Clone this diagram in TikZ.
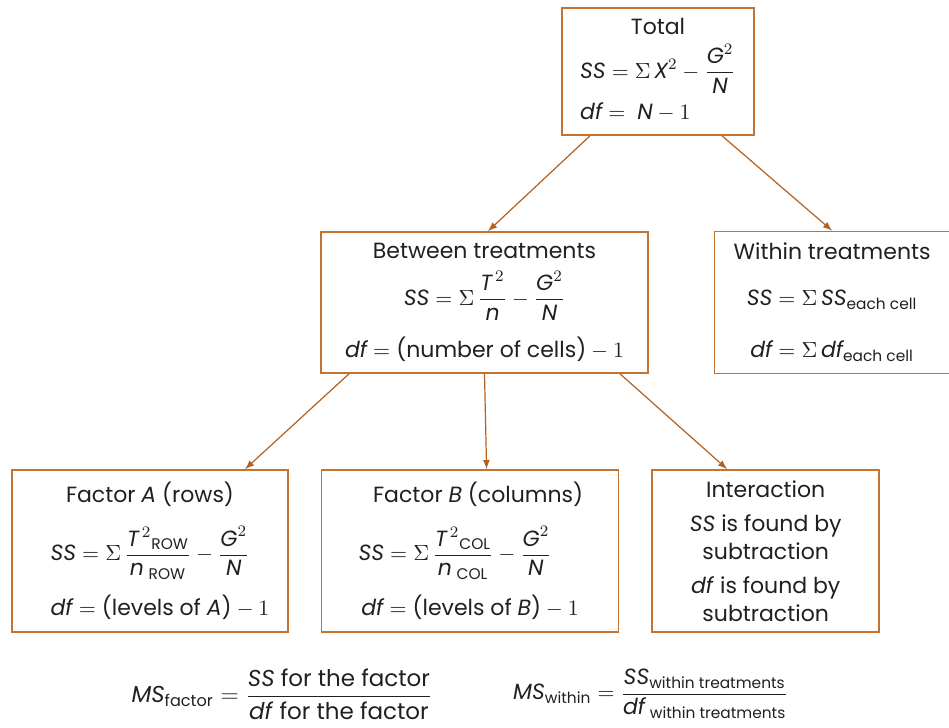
\documentclass[tikz,border=0pt]{standalone}
\usepackage{amsmath}
\usepackage{fontspec}
\setmainfont{Poppins}
\usetikzlibrary{positioning}
\definecolor{boxline}{RGB}{196,116,50}
\definecolor{arrline}{RGB}{180,96,30}
\definecolor{ink}{RGB}{35,31,32}
\newcommand{\iv}[1]{\textit{#1}}

\begin{document}
\begin{tikzpicture}[x=0.5pt, y=-0.5pt,
  every node/.style={inner sep=0pt, text=ink, font=\fontsize{11}{13}\selectfont},
  box/.style={draw=boxline, line width=0.8pt, align=center, fill=white},
  arr/.style={-latex, draw=arrline, line width=0.6pt}]
  \useasboundingbox (0,0) rectangle (949,728);

  \node[box, minimum width=96pt, minimum height=63.5pt] (total) at (658,71.5)
    {\begin{tabular}{@{}l@{}}\multicolumn{1}{c}{Total}\\[1pt]
      $\iv{SS} = \Sigma\,\iv{X}^2 - \dfrac{\iv{G}^2}{\iv{N}}$\\[7.5pt]
      $\iv{df} = \ \iv{N} - 1$\end{tabular}};

  \node[box, minimum width=163.5pt, minimum height=70.5pt] (between) at (484.5,302.5)
    {Between treatments\\[5pt]
      $\iv{SS} = \Sigma\,\dfrac{\iv{T}^{\,2}}{\iv{n}} - \dfrac{\iv{G}^2}{\iv{N}}$\\[7.5pt]
      $\iv{df} = \text{(number of cells)} - 1$};
  \node[box, minimum width=117.5pt, minimum height=71pt, right = 32.5pt of between] (within)
    {Within treatments\\[10pt]
      $\iv{SS} = \Sigma\,\iv{SS}_{\text{each cell}}$\\[13pt]
      $\iv{df} = \Sigma\,\iv{df}_{\text{each cell}}$};

  \node[box, minimum width=138pt, minimum height=81pt] (facA) at (150,551)
    {Factor \iv{A} (rows)\\[9pt]
      $\iv{SS} = \Sigma\,\dfrac{\iv{T}^{\,2}{}_{\text{ROW}}}{\iv{n}_{\;\text{ROW}}} - \dfrac{\iv{G}^2}{\iv{N}}$\\[7pt]
      \hspace*{10pt}$\iv{df} = \text{(levels of \iv{A})} - 1$};
  \node[box, minimum width=148.5pt, minimum height=81pt, right = 16pt of facA] (facB)
    {\hspace*{8pt}Factor \iv{B} (columns)\\[9pt]
      \hspace*{-15pt}$\iv{SS} = \Sigma\,\dfrac{\iv{T}^{\,2}{}_{\text{COL}}}{\iv{n}_{\;\text{COL}}} - \dfrac{\iv{G}^2}{\iv{N}}$\\[7pt]
      $\iv{df} = \text{(levels of \iv{B})} - 1$};
  \node[box, minimum width=113.5pt, minimum height=81pt, right = 16pt of facB,
        font=\fontsize{11}{14}\selectfont] (inter)
    {Interaction\\[3pt]
      \iv{SS} is found by\\ subtraction\\[3pt]
      \iv{df} is found by\\ subtraction};

  \node[font=\fontsize{11.5}{13}\selectfont] (msfac) at (282,694)
    {$\iv{MS}_{\text{factor}} = \dfrac{\text{\iv{SS} for the factor}}{\text{\iv{df} for the factor}}$};
  \node (mswithin) at (651,694)
    {$\iv{MS}_{\text{within}} = \dfrac{\iv{SS}_{\text{within treatments}}}{\iv{df}_{\;\text{within treatments}}}$};

  \draw[arr] ([xshift=-34pt]total.south) -- ([xshift=1.75pt]between.north);
  \draw[arr] ([xshift=32pt]total.south) -- (within.north);
  \draw[arr] ([xshift=-67.75pt]between.south) -- ([xshift=47.5pt]facA.north);
  \draw[arr] (between.south) -- ([xshift=8.25pt]facB.north);
  \draw[arr] ([xshift=67.75pt]between.south) -- ([xshift=-19.25pt]inter.north);
\end{tikzpicture}
\end{document}
